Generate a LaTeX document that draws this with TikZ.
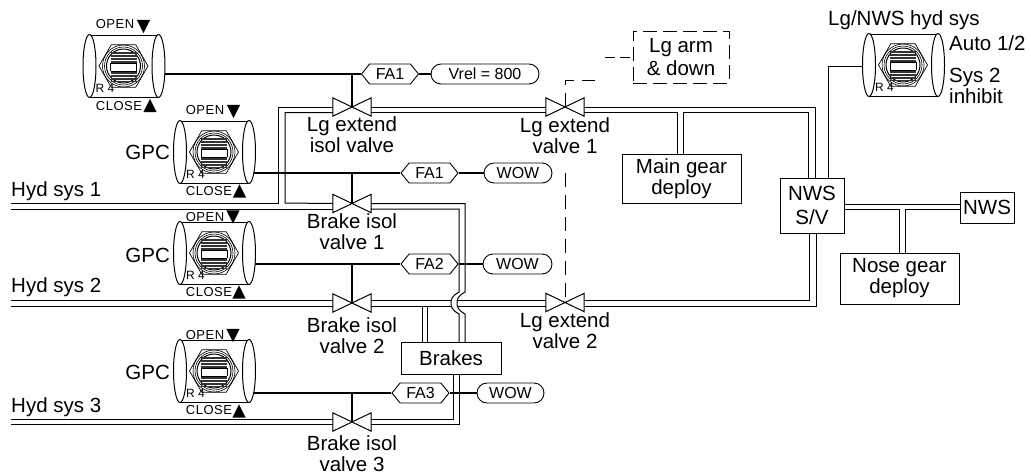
\documentclass[tikz,border=0pt]{standalone}
\usepackage{fontspec}
\setmainfont{Liberation Sans}
\newfontfamily\switchfont[LetterSpace=4]{Liberation Sans}
\usetikzlibrary{positioning, calc, backgrounds, shapes.geometric, shapes.misc, shapes.symbols}
\tikzset{
  x=1pt, y=-1pt, % one unit is one pixel of the picture
  pipe/.style={line width=1pt}, % hydraulic lines, always in pairs
  wire/.style={line width=1.7pt}, % signal lines
  ctl/.style={line width=.9pt, dash pattern=on 14pt off 8pt},
  lbl/.style={align=center, inner sep=0pt, font=\fontsize{20.5}{21}\selectfont},
  tiny/.style={inner sep=0pt, font=\switchfont\fontsize{13}{13}\selectfont},
  unit/.style={draw, line width=1pt, inner sep=0pt, align=center,
    font=\fontsize{20.5}{21}\selectfont},
  valvebox/.style={minimum width=38pt, minimum height=18pt, inner sep=0pt},
  markbox/.style={minimum width=13pt, minimum height=13pt, inner sep=0pt},
  fa/.style={draw, line width=.9pt, signal, signal to=east and west,
    signal pointer angle=102, minimum width=57pt, minimum height=20pt,
    inner sep=0pt, font=\fontsize{16}{16}\selectfont},
  pill/.style={draw, line width=.9pt, rounded rectangle, minimum height=20pt,
    inner sep=0pt, font=\fontsize{16}{16}\selectfont},
  toggle/.pic={
    \draw[line width=1pt] (-34,-31) -- (35,-31) (-34,31) -- (35,31);
    \node[draw, line width=1pt, fill=white, ellipse, minimum width=13pt,
      minimum height=63pt, inner sep=0pt] (-left) at (-34,0) {};
    \node[draw, line width=1pt, fill=white, ellipse, minimum width=13pt,
      minimum height=63pt, inner sep=0pt] (-right) at (35,0) {};
    \node[draw, line width=.7pt, regular polygon, regular polygon sides=6,
      minimum size=49pt, inner sep=0pt] (-hex) at (0,0) {};
    \draw[line width=.6pt] (0,0) circle (21) (0,0) circle (19);
    \draw[line width=1pt] (0,0) circle (17);
    \foreach \ypos in {-14,-12.5,...,-3} {
      \draw[line width=.9pt, black!80] (-13,\ypos) -- (13,\ypos);
    }
    \foreach \ypos in {6,7.5,...,15} {
      \draw[line width=.9pt, black!80] (-13,\ypos) -- (13,\ypos);
    }
    \draw[line width=1pt] (-13,-3) -- (13,-3) (-13,5) -- (13,5) (-13,-3) -- (-13,5) (13,-3) -- (13,5);
    \node[anchor=west, inner sep=0pt, font=\fontsize{12}{12}\selectfont] (-rack) at (-28,22) {R 4};
  },
}
\newcommand{\valve}[2]{%
  \node[valvebox] (#1) at (#2) {};
  \draw[line width=1pt] (#1.north west) -- (#1.south east) -- (#1.north east)
    -- (#1.south west) -- cycle;
}
\newcommand{\openmark}[2]{%
  \node[markbox] (#1) at (#2) {};
  \fill (#1.north west) -- (#1.north east) -- (#1.south) -- cycle;
}
\newcommand{\closemark}[2]{%
  \node[markbox] (#1) at (#2) {};
  \fill (#1.south west) -- (#1.south east) -- (#1.north) -- cycle;
}

\begin{document}
\begin{tikzpicture}
  \useasboundingbox (0,0) rectangle (1031,475);

  % switches
  \pic (sw_0) at (123.5,66) {toggle};
  \pic (sw_1) at (214,152) {toggle};
  \pic (sw_2) at (214,253) {toggle};
  \pic (sw_3) at (214,371) {toggle};
  \pic (sw_nws) at (903,65) {toggle};

  \node[tiny] (open_0) at (115,24) {OPEN};
  \openmark{open_mark_0}{143.5,26.5}
  \node[tiny] (close_0) at (119,106) {CLOSE};
  \closemark{close_mark_0}{150,105.5}
  \node[tiny] (open_1) at (205,110) {OPEN};
  \openmark{open_mark_1}{233.5,111.5}
  \node[tiny] (close_1) at (209,191) {CLOSE};
  \closemark{close_mark_1}{239.5,191}
  \node[tiny] (open_2) at (205,217) {OPEN};
  \openmark{open_mark_2}{233,217}
  \node[tiny] (close_2) at (209,292) {CLOSE};
  \closemark{close_mark_2}{239,292}
  \node[tiny] (open_3) at (205,335) {OPEN};
  \openmark{open_mark_3}{233,335.5}
  \node[tiny] (close_3) at (209,410) {CLOSE};
  \closemark{close_mark_3}{239,411}

  \node[lbl, anchor=east] (gpc_1) at (170,152) {GPC};
  \node[lbl, anchor=east] (gpc_2) at (170,255) {GPC};
  \node[lbl, anchor=east] (gpc_3) at (170,372) {GPC};

  % valves
  \valve{isol_valve}{352,107}
  \valve{ext_valve_1}{565,107}
  \valve{ext_valve_2}{565,302.5}
  \valve{brake_1}{352,203.5}
  \valve{brake_2}{352,303}
  \valve{brake_3}{352,422}

  \node[lbl] (isol_txt) at (352,135) {Lg extend\\isol valve};
  \node[lbl] (ext_1_txt) at (565,136) {Lg extend\\valve 1};
  \node[lbl] (ext_2_txt) at (565,331) {Lg extend\\valve 2};
  \node[lbl] (brake_1_txt) at (352,232) {Brake isol\\valve 1};
  \node[lbl] (brake_2_txt) at (352,336) {Brake isol\\valve 2};
  \node[lbl] (brake_3_txt) at (352,454) {Brake isol\\valve 3};

  % boxes
  \node[unit, minimum width=119pt, minimum height=49pt] (main_gear) at (681.5,178.5) {Main gear\\deploy};
  \node[unit, minimum width=64pt, minimum height=55pt] (nws_sv) at (812,205.5) {NWS\\[3pt]S/V};
  \node[unit, minimum width=54pt, minimum height=31pt] (nws) at (987,207.5) {NWS};
  \node[unit, minimum width=119pt, minimum height=51pt] (nose_gear) at (899.5,278.5) {Nose gear\\deploy};
  \node[unit, minimum width=100pt, minimum height=32pt] (brakes) at (451,358) {Brakes};
  \node[lbl, draw, line width=.9pt, dash pattern=on 14pt off 6pt, minimum width=96pt,
    minimum height=52pt] (lg_arm) at (681,57) {Lg arm\\[2pt]\& down};

  % hex tags and their limits
  \node[fa] (fa_0) at (390,74) {FA1};
  \node[fa] (fa_1) at (429.5,173) {FA1};
  \node[fa] (fa_2) at (429.5,264) {FA2};
  \node[fa] (fa_3) at (420.5,393) {FA3};
  \node[pill, minimum width=108pt] (vrel) at (485,74) {Vrel = 800};
  \node[pill, minimum width=68pt] (wow_1) at (518,173) {WOW};
  \node[pill, minimum width=69pt] (wow_2) at (517.5,264) {WOW};
  \node[pill, minimum width=67pt] (wow_3) at (510.5,393) {WOW};

  % free text
  \node[lbl, anchor=west] (hyd_1_txt) at (11,191) {Hyd sys 1};
  \node[lbl, anchor=west] (hyd_2_txt) at (11,287) {Hyd sys 2};
  \node[lbl, anchor=west] (hyd_3_txt) at (11,407) {Hyd sys 3};
  \node[lbl, anchor=west] (nws_title) at (828,20) {Lg/NWS hyd sys};
  \node[lbl, anchor=west] (auto_txt) at (949,43) {Auto 1/2};
  \node[lbl, anchor=west, align=left] (inhibit_txt) at (949,85.5) {Sys 2\\inhibit};

  % free ends
  \coordinate (hyd_1) at (11,203);
  \coordinate (hyd_2) at (11,300);
  \coordinate (hyd_3) at (11,419);
  \coordinate (ctl_a) at (605,57);
  \coordinate (ctl_b) at (595,80);
  \coordinate (ctl_c) at (565,173);

  \begin{scope}[on background layer]
    \draw[wire] (sw_0-right.center |- fa_0.west) -- (fa_0.west) (fa_0.east) -- (vrel.west);
    \draw[wire] (sw_1-right.center |- fa_1.west) -- (fa_1.west) (fa_1.east) -- (wow_1.west);
    \draw[wire] (sw_2-right.center |- fa_2.west) -- (fa_2.west) (fa_2.east) -- (wow_2.west);
    \draw[wire] (sw_3-right.center |- fa_3.west) -- (fa_3.west) (fa_3.east) -- (wow_3.west);
    \draw[wire] (isol_valve.center) -- (isol_valve.center |- fa_0.west);
    \draw[wire] (brake_1.center) -- (brake_1.center |- fa_1.west);
    \draw[wire] (brake_2.center) -- (brake_2.center |- fa_2.west);
    \draw[wire] (brake_3.center) -- (brake_3.center |- fa_3.west);
    \draw[line width=1pt] (sw_nws-left.center |- 0,66) -- (828,66) -- (828,178);
  \end{scope}

  % hyd sys 1 and the line up to the isol valve
  \draw[pipe] (hyd_1) -- (278,203) -- (278,107) -- (isol_valve.west);
  \draw[pipe] ([yshift=-5.5pt]isol_valve.west) -- (285,112.5) -- (285,203) -- (brake_1.west);
  \draw[pipe] ([yshift=-6pt]hyd_1) -- ([yshift=-5.5pt]brake_1.west);

  % lg extend line
  \draw[pipe] (isol_valve.east) -- (ext_valve_1.west);
  \draw[pipe] ([yshift=-5.5pt]isol_valve.east) -- ([yshift=-5.5pt]ext_valve_1.west);
  \draw[pipe] (ext_valve_1.east) -- (815,107) -- (815,178);
  \draw[pipe] ([yshift=-5.5pt]ext_valve_1.east) -- (677,112.5) -- (677,154);
  \draw[pipe] (683,154) -- (683,112.5) -- (808,112.5) -- (808,178);

  % hyd sys 2
  \draw[pipe] (hyd_2) -- (brake_2.west |- hyd_2);
  \draw[pipe] ([yshift=-6pt]hyd_2) -- ([yshift=-3pt]brake_2.west);
  \draw[pipe] (brake_2.east |- hyd_2) -- (451,300) (457,300) -- (ext_valve_2.west |- hyd_2);
  \draw[pipe] ([yshift=-3pt]brake_2.east) -- (451,306) (457,306) -- ([yshift=-3.5pt]ext_valve_2.west);
  \draw[pipe] (ext_valve_2.east |- hyd_2) -- (809,300) -- (809,233);
  \draw[pipe] ([yshift=-3.5pt]ext_valve_2.east) -- (816,306) -- (816,233);

  % brake return around the hyd sys 2 line
  \draw[pipe] (brake_1.east) -- (465,203.5) -- (465,292)
    .. controls (458,296) and (457,299) .. (457,303)
    .. controls (457,307) and (458,310) .. (465,314) -- (465,342);
  \draw[pipe] ([yshift=-5.5pt]brake_1.east) -- (459,209) -- (459,292)
    .. controls (452,296) and (451,299) .. (451,303)
    .. controls (451,307) and (452,310) .. (459,314) -- (459,342);
  \draw[pipe] (422,306) -- (422,342) (427.5,306) -- (427.5,342);

  % hyd sys 3
  \draw[pipe] (hyd_3) -- (brake_3.west |- hyd_3);
  \draw[pipe] ([yshift=-5.5pt]hyd_3) -- (333,424.5);
  \draw[pipe] (brake_3.east |- hyd_3) -- (453,419) -- (453,374);
  \draw[pipe] (371,424.5) -- (459,424.5) -- (459,374);

  % nose gear and nws
  \draw[pipe] (nws_sv.east |- 0,204) -- (nws.west |- 0,204);
  \draw[pipe] (nws_sv.east |- 0,209.5) -- (899,209.5) -- (899,253);
  \draw[pipe] (905,253) -- (905,209.5) -- (nws.west |- 0,209.5);

  % lg arm and down control
  \draw[ctl, dash pattern=on 10pt off 5pt] (ctl_a) -- (lg_arm.west);
  \draw[ctl] (ext_valve_1.center) -- (565,80) -- (ctl_b);
  \draw[ctl] (ctl_c) -- (ext_valve_2.center);
\end{tikzpicture}
\end{document}
